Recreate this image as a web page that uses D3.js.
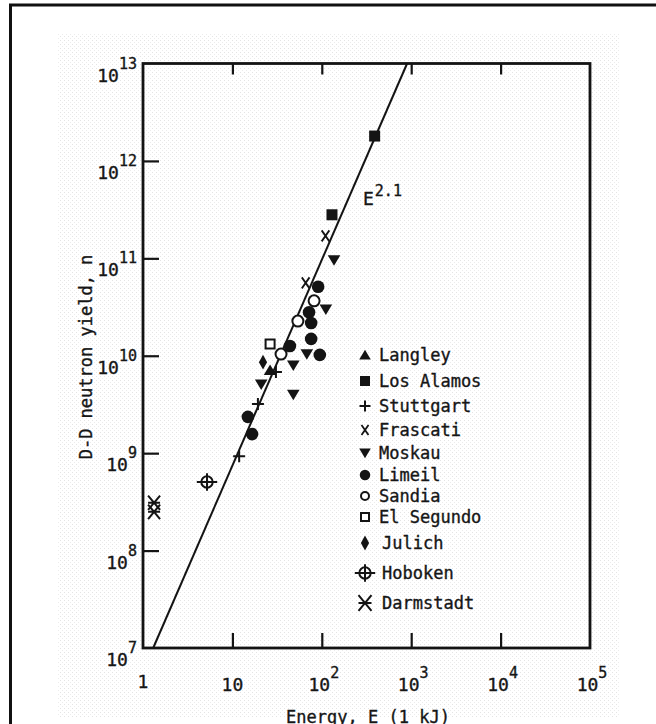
<!DOCTYPE html>
<html>
<head>
<meta charset="utf-8">
<script src="https://cdn.jsdelivr.net/npm/d3@7"></script>
<style>
  html, body { margin: 0; padding: 0; background: #fff; overflow: hidden; }
  text { font-family: "DejaVu Sans Mono", "Liberation Mono", monospace; fill: #161616; stroke: #161616; stroke-width: 0.35; }
</style>
</head>
<body>
<svg id="chart" width="656" height="724"></svg>
<script>
// ---- axis ticks ----
const xTicks = [1, 10, 100, 1e3, 1e4, 1e5];
const xTickBase = ["1", "10", "10", "10", "10", "10"];
const xTickExp = ["", "", "2", "3", "4", "5"];
const yTicks = [1e7, 1e8, 1e9, 1e10, 1e11, 1e12, 1e13];
const yTickExp = ["7", "8", "9", "10", "11", "12", "13"];

// ---- measurements: [energy (kJ), D-D neutron yield] ----
const langley = [[26.4, 7.1e9]];
const losAlamos = [[390, 1.8e12], [130, 2.8e11]];
const stuttgart = [[30.7, 6.8e9], [19.3, 3.2e9], [11.9, 9.3e8]];
const frascati = [[110, 1.7e11], [66, 5.6e10]];
const moskau = [[137, 9.6e10], [111, 3.0e10], [68, 1.04e10], [48, 8.0e9], [21, 5.1e9], [48, 4.0e9]];
const limeil = [[91, 5.1e10], [72, 2.8e10], [76, 2.17e10], [76, 1.49e10], [44, 1.26e10], [95, 1.02e10], [14.9, 2.36e9], [16.6, 1.57e9]];
const sandia = [[82, 3.66e10], [54, 2.27e10], [35, 1.04e10]];
const elSegundo = [[26.4, 1.32e10]];
const julich = [[22, 8.6e9]];
const hoboken = [[5.2, 5.06e8]];
const darmstadt = [[1.33, 3.1e8], [1.33, 2.5e8]];

// ---- scaling law E^2.1 ----
const fitE = [1.3, 900];
const fitN = [1e7, 1e13];
const fitLabel = "E";
const fitExp = "2.1";

const seriesNames = ["Langley", "Los Alamos", "Stuttgart", "Frascati", "Moskau", "Limeil",
                     "Sandia", "El Segundo", "Julich", "Hoboken", "Darmstadt"];
const seriesData = [langley, losAlamos, stuttgart, frascati, moskau, limeil,
                    sandia, elSegundo, julich, hoboken, darmstadt];
const seriesSymbol = ["triUp", "square", "plus", "cross", "triDown", "dot",
                      "ring", "box", "diamond", "target", "star"];

const xAxisTitle = "Energy, E (1 kJ)";
const yAxisTitle = "D-D neutron yield, n";

const ink = "#141414";
const svg = d3.select("#chart");

// paper texture of the printed page
const defs = svg.append("defs");
const pat = defs.append("pattern").attr("id", "grain")
  .attr("width", 4).attr("height", 4).attr("patternUnits", "userSpaceOnUse");
pat.append("rect").attr("width", 4).attr("height", 4).attr("fill", "#fff");
pat.append("rect").attr("x", 0).attr("y", 0).attr("width", 1).attr("height", 1).attr("fill", "#e4e4e4");
pat.append("rect").attr("x", 2).attr("y", 2).attr("width", 1).attr("height", 1).attr("fill", "#ececec");

svg.append("rect").attr("x", 0).attr("y", 0).attr("width", 656).attr("height", 724).attr("fill", "#fff");
svg.append("rect").attr("x", 57).attr("y", 33).attr("width", 562).attr("height", 684).attr("fill", "url(#grain)");

// page frame
svg.append("path").attr("d", "M10.5,724 L10.5,5 L656,5")
  .attr("fill", "none").attr("stroke", "#111").attr("stroke-width", 3);

const x = d3.scaleLog().domain([1, 1e5]).range([143, 590]);
const y = d3.scaleLog().domain([1e7, 1e13]).range([648, 63.5]);

const axisStyle = g => {
  g.select(".domain").remove();
  g.selectAll(".tick line").attr("stroke", ink).attr("stroke-width", 2.2);
  g.selectAll(".tick text").remove();
};

svg.append("g").attr("transform", "translate(0,648)")
  .call(d3.axisBottom(x).tickValues(xTicks.slice(1, -1)).tickSize(-15).tickFormat(""))
  .call(axisStyle);
svg.append("g").attr("transform", "translate(0,63.5)")
  .call(d3.axisTop(x).tickValues(xTicks.slice(1, -1)).tickSize(-11).tickFormat(""))
  .call(axisStyle);
svg.append("g").attr("transform", "translate(143,0)")
  .call(d3.axisLeft(y).tickValues(yTicks.slice(1, -1)).tickSize(-16).tickFormat(""))
  .call(axisStyle);

// plot box
svg.append("rect")
  .attr("x", x(1)).attr("y", y(1e13))
  .attr("width", x(1e5) - x(1)).attr("height", y(1e7) - y(1e13))
  .attr("fill", "none").attr("stroke", ink).attr("stroke-width", 2.8);

// tick labels
svg.append("g").selectAll("text").data(yTicks).join("text")
  .attr("x", 137).attr("y", d => y(d) + 18)
  .attr("text-anchor", "end").attr("font-size", 18)
  .each(function(d, i) {
    const t = d3.select(this);
    t.append("tspan").text("10");
    t.append("tspan").attr("dy", -13).attr("font-size", 15).text(yTickExp[i]);
  });

svg.append("g").selectAll("text").data(xTicks).join("text")
  .attr("x", (d, i) => x(d) + (xTickExp[i] ? 2 : 0)).attr("y", (d, i) => i === 0 ? 688 : 691)
  .attr("text-anchor", "middle").attr("font-size", 18)
  .each(function(d, i) {
    const t = d3.select(this);
    t.append("tspan").text(xTickBase[i]);
    if (xTickExp[i]) t.append("tspan").attr("dy", -13).attr("font-size", 15).text(xTickExp[i]);
  });

// axis titles
svg.append("text").attr("x", 368).attr("y", 723).attr("text-anchor", "middle")
  .attr("font-size", 17).text(xAxisTitle);
svg.append("text").attr("transform", "translate(92,357) rotate(-90)")
  .attr("text-anchor", "middle").attr("font-size", 17).text(yAxisTitle);

// scaling line
svg.append("path")
  .attr("d", d3.line().x(d => x(d[0])).y(d => y(d[1]))(fitE.map((e, i) => [e, fitN[i]])))
  .attr("fill", "none").attr("stroke", ink).attr("stroke-width", 2);
const fl = svg.append("text").attr("x", 363).attr("y", 205).attr("font-size", 18);
fl.append("tspan").text(fitLabel);
fl.append("tspan").attr("dx", 1).attr("dy", -9).attr("font-size", 15).text(fitExp);

// marker drawing
function drawSymbol(g, type, s) {
  const h = s / 2;
  switch (type) {
    case "triUp":
      g.append("path").attr("d", `M0,${-h * 0.95}L${h * 1.05},${h * 0.8}L${-h * 1.05},${h * 0.8}Z`).attr("fill", ink);
      break;
    case "triDown":
      g.append("path").attr("d", `M0,${h * 0.95}L${h * 1.05},${-h * 0.8}L${-h * 1.05},${-h * 0.8}Z`).attr("fill", ink);
      break;
    case "square":
      g.append("rect").attr("x", -h).attr("y", -h).attr("width", s).attr("height", s).attr("fill", ink);
      break;
    case "box":
      g.append("rect").attr("x", -h + 1).attr("y", -h + 1).attr("width", s - 2).attr("height", s - 2)
        .attr("fill", "#fff").attr("stroke", ink).attr("stroke-width", 2);
      break;
    case "dot":
      g.append("circle").attr("r", h * 1.05).attr("fill", ink);
      break;
    case "ring":
      g.append("circle").attr("r", h - 0.5).attr("fill", "#fff").attr("stroke", ink).attr("stroke-width", 2);
      break;
    case "plus":
      g.append("path").attr("d", `M${-h},0H${h}M0,${-h}V${h}`).attr("stroke", ink).attr("stroke-width", 2);
      break;
    case "cross":
      g.append("path").attr("d", `M${-h * 0.7},${-h}L${h * 0.7},${h}M${h * 0.7},${-h}L${-h * 0.7},${h}`)
        .attr("stroke", ink).attr("stroke-width", 1.8).attr("fill", "none");
      break;
    case "diamond":
      g.append("path").attr("d", `M0,${-h * 1.35}L${h * 0.75},0L0,${h * 1.35}L${-h * 0.75},0Z`).attr("fill", ink);
      break;
    case "target":
      g.append("circle").attr("r", h * 0.95).attr("fill", "none").attr("stroke", ink).attr("stroke-width", 2);
      g.append("path").attr("d", `M${-h * 1.7},0H${h * 1.7}M0,${-h * 1.45}V${h * 1.45}`)
        .attr("stroke", ink).attr("stroke-width", 2);
      break;
    case "star":
      g.append("path").attr("d", `M${-h},${-h * 1.2}L${h},${h * 1.2}M${h},${-h * 1.2}L${-h},${h * 1.2}M${-h},0H${h}`)
        .attr("stroke", ink).attr("stroke-width", 2).attr("fill", "none");
      break;
  }
}

// data points
const plotSize = {triUp: 12, triDown: 12, square: 11, box: 11, dot: 12, ring: 12, plus: 12,
                  cross: 11, diamond: 11, target: 12, star: 12};
seriesData.forEach((pts, si) => {
  const type = seriesSymbol[si];
  svg.append("g").selectAll("g").data(pts).join("g")
    .attr("transform", d => `translate(${x(d[0])},${y(d[1])})`)
    .each(function() { drawSymbol(d3.select(this), type, plotSize[type]); });
});

// legend
const legendY = [355, 381, 406, 430, 453, 475, 496, 517, 543, 573, 603];
const legendSize = {triUp: 11, triDown: 11, square: 10, box: 10, dot: 10, ring: 9, plus: 11,
                    cross: 10, diamond: 11, target: 12, star: 13};
const lg = svg.append("g");
seriesNames.forEach((name, i) => {
  const type = seriesSymbol[i];
  const g = lg.append("g").attr("transform", `translate(365,${legendY[i]})`);
  drawSymbol(g, type, legendSize[type]);
  lg.append("text").attr("x", i >= 8 ? 382 : 379).attr("y", legendY[i] + 6)
    .attr("font-size", 17).text(name);
});
</script>
</body>
</html>
